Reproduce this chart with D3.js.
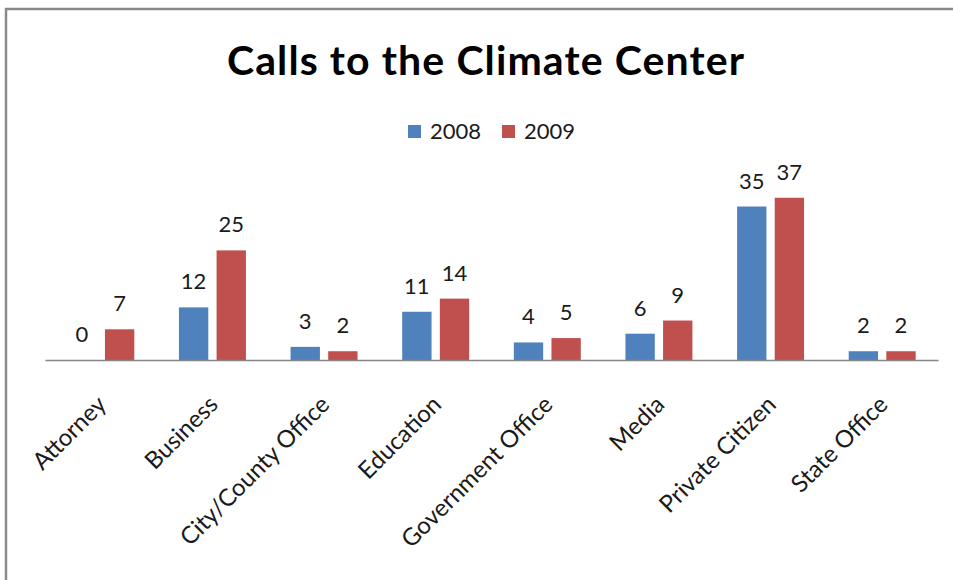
<!DOCTYPE html>
<html><head><meta charset="utf-8">
<script src="https://cdn.jsdelivr.net/npm/d3@7"></script>
<style>body{margin:0;background:#fff}svg{display:block}</style>
</head><body><svg id="chart" width="953" height="580"></svg>
<script>
const categories = ["Attorney","Business","City/County Office","Education","Government Office","Media","Private Citizen","State Office"];
const years = ["2008","2009"];
const values2008 = [0,12,3,11,4,6,35,2];
const values2009 = [7,25,2,14,5,9,37,2];
const seriesColors = ["#4F81BD","#C0504D"];
const chartTitle = "Calls to the Climate Center";

const series = [values2008, values2009];
const data = categories.map((c,i)=>({cat:c, vals: years.map((y,j)=>({year:y, v:series[j][i], j}))}));

const svg = d3.select("#chart");
const font = "Lato, 'Open Sans', sans-serif";

// frame
svg.append("rect").attr("x",6).attr("y",9).attr("width",1000).attr("height",1000)
  .attr("fill","none").attr("stroke","#8a8a8a").attr("stroke-width",2.5);

const x0 = d3.scaleBand().domain(categories).range([45,938]).paddingInner(0.4).paddingOuter(0.2);
const x1 = d3.scaleBand().domain(years).range([0,x0.bandwidth()]).paddingInner(0.22);
const y = d3.scaleLinear().domain([0,40]).range([360,184.6]);

// title
svg.append("text").attr("x",486).attr("y",75).attr("text-anchor","middle")
  .attr("font-family",font).attr("font-weight","bold").attr("font-size",41)
  .attr("letter-spacing",1.1).attr("fill","#000")
  .text(chartTitle);

// legend
const legX = [408,502];
years.forEach((yr,j)=>{
  svg.append("rect").attr("x",legX[j]).attr("y",125).attr("width",13).attr("height",13).attr("fill",seriesColors[j]);
  svg.append("text").attr("x",legX[j]+22).attr("y",139).attr("font-family",font).attr("font-size",22).attr("fill","#1a1a1a").text(yr);
});

// bars
const g = svg.append("g");
const groups = g.selectAll("g.cat").data(data).join("g").attr("transform",d=>`translate(${x0(d.cat)},0)`);
groups.selectAll("rect").data(d=>d.vals).join("rect")
  .attr("x",d=>x1(d.year)).attr("width",x1.bandwidth())
  .attr("y",d=>y(d.v)).attr("height",d=>y(0)-y(d.v))
  .attr("fill",d=>seriesColors[d.j]);
groups.selectAll("text").data(d=>d.vals).join("text")
  .attr("x",d=>x1(d.year)+x1.bandwidth()/2).attr("y",d=>y(d.v)-18)
  .attr("text-anchor","middle").attr("font-family",font).attr("font-size",22).attr("fill","#1a1a1a")
  .text(d=>d.v);

// axis
const xAxis = d3.axisBottom(x0).tickSize(0).tickPadding(0);
const ax = svg.append("g").attr("transform","translate(0,360)").call(xAxis);
ax.select(".domain").attr("stroke","#868686").attr("stroke-width",1.5);
ax.selectAll(".tick text")
  .attr("font-family",font).attr("font-size",24).attr("fill","#1a1a1a")
  .attr("text-anchor","end").attr("dy",null).attr("y",0)
  .attr("transform","translate(7,46) rotate(-45)");
</script></body></html>
